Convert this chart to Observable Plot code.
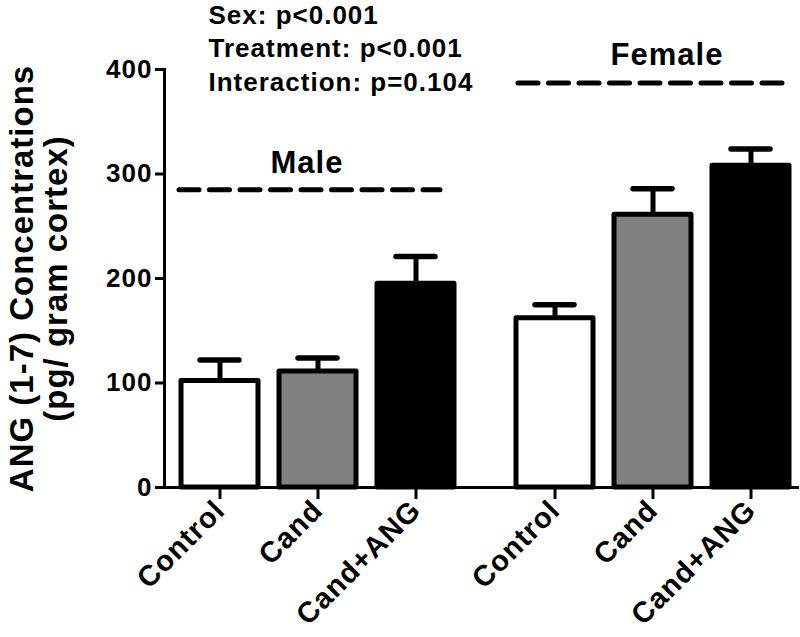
<!DOCTYPE html>
<html><head><meta charset="utf-8">
<script src="https://cdn.jsdelivr.net/npm/d3@7"></script>
<script src="https://cdn.jsdelivr.net/npm/@observablehq/plot@0.6"></script>
<style>body{margin:0;background:#fff} svg{display:block} svg text{letter-spacing:1px}</style>
</head><body><div id="chart"></div>
<script>
const sexes = ["Male", "Female"];
const treatments = ["Control", "Cand", "Cand+ANG"];
const maleMeans = [102, 111, 195];
const maleSE = [20, 13, 26];
const femaleMeans = [162, 261, 308];
const femaleSE = [13, 25, 16];
const fills = ["#ffffff", "#808080", "#000000"];
const groupLineY = [285, 387];
const yTicks = [0, 100, 200, 300, 400];
const yTitle = ["ANG (1-7) Concentrations", "(pg/ gram cortex)"];
const stats = ["Sex: p<0.001", "Treatment: p<0.001", "Interaction: p=0.104"];

const rows = [];
sexes.forEach((s, si) => treatments.forEach((t, ti) => rows.push({
  sex: s, treatment: t,
  mean: (si ? femaleMeans : maleMeans)[ti],
  se: (si ? femaleSE : maleSE)[ti]
})));
const groups = sexes.map((s, i) => ({sex: s, y: groupLineY[i]}));
const male = groups.filter(d => d.sex === "Male");
const female = groups.filter(d => d.sex === "Female");
const dash = {stroke: "black", strokeWidth: 5, strokeDasharray: "20,10.5", strokeLinecap: "round"};

const chart = Plot.plot({
  width: 800, height: 637,
  marginLeft: 163, marginRight: 1, marginTop: 69, marginBottom: 150,
  style: {fontFamily: "'Liberation Sans', Arial, sans-serif", fontWeight: "bold", fontSize: "26px", color: "black", background: "white"},
  fx: {domain: sexes, paddingInner: 0.107, paddingOuter: 0, axis: null, label: null},
  x: {domain: treatments, paddingInner: 0.217, paddingOuter: 0.134, align: 0.66, label: null},
  y: {domain: [0, 400], label: null},
  color: {domain: treatments, range: fills},
  marks: [
    Plot.barY(rows, {fx: "sex", x: "treatment", y: "mean", fill: "treatment", stroke: "black", strokeWidth: 5, strokeLinejoin: "round"}),
    Plot.ruleX(rows, {fx: "sex", x: "treatment", y1: "mean", y2: d => d.mean + d.se, stroke: "black", strokeWidth: 5}),
    Plot.tickY(rows, {fx: "sex", x: "treatment", y: d => d.mean + d.se, stroke: "black", strokeWidth: 5.5, strokeLinecap: "round", insetLeft: 19, insetRight: 19}),
    Plot.ruleY(male, {fx: "sex", y: "y", insetLeft: 15, insetRight: 23, ...dash}),
    Plot.ruleY(female, {fx: "sex", y: "y", insetLeft: 19, insetRight: 11, ...dash}),
    Plot.text(male, {fx: "sex", x: () => "Cand", y: "y", text: "sex", dx: -11, dy: -17, lineAnchor: "bottom", fontSize: 31, fontWeight: "bold"}),
    Plot.text(female, {fx: "sex", x: () => "Cand", y: "y", text: "sex", dx: 14, dy: -18, lineAnchor: "bottom", fontSize: 31, fontWeight: "bold"}),
    Plot.ruleY(male, {fx: "sex", y: () => 0, insetRight: -20, stroke: "black", strokeWidth: 3}),
    Plot.ruleY(female, {fx: "sex", y: () => 0, insetLeft: -20, insetRight: -1, stroke: "black", strokeWidth: 3}),
    Plot.frame({anchor: "left", facetAnchor: "left", stroke: "black", strokeWidth: 3}),
    Plot.axisY({ticks: yTicks, tickSize: 9, tickPadding: 3, fontSize: 26, fontWeight: "bold", strokeWidth: 3, label: null}),
    Plot.axisX({tickRotate: -45, tickSize: 12, tickPadding: 6, fontSize: 29, fontWeight: "bold", strokeWidth: 3, label: null}),
    Plot.text(male, {fx: "sex", frameAnchor: "left", text: () => yTitle.join("\n"), rotate: -90, dx: -125, textAnchor: "middle", lineAnchor: "middle", fontSize: 33, fontWeight: "bold", lineHeight: 1.02}),
    Plot.text(male, {fx: "sex", frameAnchor: "top-left", text: () => stats.join("\n"), dx: 44, dy: -70, textAnchor: "start", lineAnchor: "top", fontSize: 26, fontWeight: "bold", lineHeight: 1.3})
  ]
});
document.getElementById("chart").appendChild(chart);
</script>
</body></html>
